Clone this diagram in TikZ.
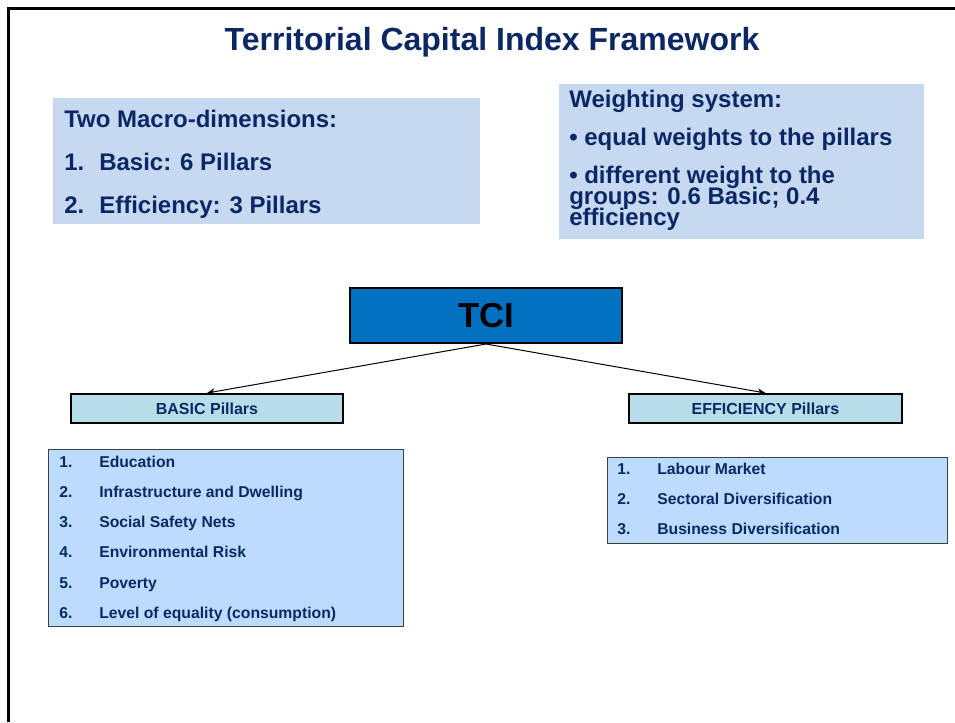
\documentclass[tikz,border=0pt]{standalone}
\usepackage{fontspec}
\setmainfont{Liberation Sans}
\usetikzlibrary{arrows.meta}
\definecolor{navy}{HTML}{0B2865}
\definecolor{macrofill}{HTML}{C6D9F0}
\definecolor{tcifill}{HTML}{0070C0}
\definecolor{pillarfill}{HTML}{B7DEE8}
\definecolor{listfill}{HTML}{BDDBFD}
\definecolor{listborder}{HTML}{404040}
\tikzset{
  panel/.style={fill=macrofill, draw=none, inner sep=0pt, outer sep=0pt},
  pillarbox/.style={fill=pillarfill, draw=black, line width=1.5pt, inner sep=0pt, minimum height=21.75pt, minimum width=204pt},
  listbox/.style={fill=listfill, draw=listborder, line width=0.75pt, inner sep=0pt},
  txt/.style={anchor=base west, inner sep=0pt, text=navy, font=\bfseries},
  bigtxt/.style={txt, font=\fontsize{18}{20}\selectfont\bfseries},
  listtxt/.style={txt, font=\fontsize{11.8}{13}\selectfont\bfseries},
  arr/.style={-{Stealth[length=6pt,width=5pt]}, line width=0.75pt, black}
}
\begin{document}
\begin{tikzpicture}[x=0.75pt,y=-0.75pt]
\useasboundingbox (0,0) rectangle (955,722);
\draw[line width=2.25pt] (8,722) -- (8,8) -- (955,8);

\node[anchor=base, inner sep=0pt, text=navy, font=\fontsize{24}{28}\selectfont\bfseries] (title) at (492,50) {Territorial Capital Index Framework};

% macro-dimensions box
\node[panel, minimum width=320.25pt, minimum height=94.5pt] (macro) at (266.5,161) {};
\node[bigtxt] (m0) at (64,127) {Two Macro-dimensions:};
\node[bigtxt] (m1n) at (64,170) {1.};
\node[bigtxt] (m1) at (99,170) {Basic: 6 Pillars};
\node[bigtxt] (m2n) at (64,213) {2.};
\node[bigtxt] (m2) at (99,213) {Efficiency: 3 Pillars};

% weighting box
\node[panel, minimum width=273.75pt, minimum height=116.25pt] (weight) at (741.5,161.5) {};
\node[bigtxt] (w0) at (569,107) {Weighting system:};
\node[bigtxt] (w1) at (569,145) {\textbullet\ equal weights to the pillars};
\node[bigtxt] (w2) at (569,183) {\textbullet\ different weight to the};
\node[bigtxt] (w3) at (569,204) {groups: 0.6 Basic; 0.4};
\node[bigtxt] (w4) at (569,225) {efficiency};

% TCI
\node[fill=tcifill, draw=black, line width=1.5pt, inner sep=0pt, minimum width=204pt, minimum height=41.25pt, font=\fontsize{26}{30}\selectfont\bfseries] (tci) at (486,315.5) {TCI};

% pillar boxes
\node[pillarbox, text=navy, font=\fontsize{12}{14}\selectfont\bfseries] (basic) at (207,408.5) {BASIC Pillars};
\node[pillarbox, minimum width=204.75pt, text=navy, font=\fontsize{12}{14}\selectfont\bfseries] (eff) at (765.5,408.5) {EFFICIENCY Pillars};

\draw[arr] (tci.south) -- (basic.north);
\draw[arr] (tci.south) -- (eff.north);

% basic list
\node[listbox, minimum width=266.25pt, minimum height=132.75pt] (blist) at (225.5,537.5) {};
\node[listtxt] (b1n) at (59,467) {1.};
\node[listtxt] (b1) at (99,467) {Education};
\node[listtxt] (b2n) at (59,497) {2.};
\node[listtxt] (b2) at (99,497) {Infrastructure and Dwelling};
\node[listtxt] (b3n) at (59,527) {3.};
\node[listtxt] (b3) at (99,527) {Social Safety Nets};
\node[listtxt] (b4n) at (59,557) {4.};
\node[listtxt] (b4) at (99,557) {Environmental Risk};
\node[listtxt] (b5n) at (59,588) {5.};
\node[listtxt] (b5) at (99,588) {Poverty};
\node[listtxt] (b6n) at (59,618) {6.};
\node[listtxt] (b6) at (99,618) {Level of equality (consumption)};

% efficiency list
\node[listbox, minimum width=255pt, minimum height=64.5pt] (elist) at (777,500) {};
\node[listtxt] (e1n) at (617,474) {1.};
\node[listtxt] (e1) at (657,474) {Labour Market};
\node[listtxt] (e2n) at (617,504) {2.};
\node[listtxt] (e2) at (657,504) {Sectoral Diversification};
\node[listtxt] (e3n) at (617,534) {3.};
\node[listtxt] (e3) at (657,534) {Business Diversification};
\end{tikzpicture}
\end{document}
